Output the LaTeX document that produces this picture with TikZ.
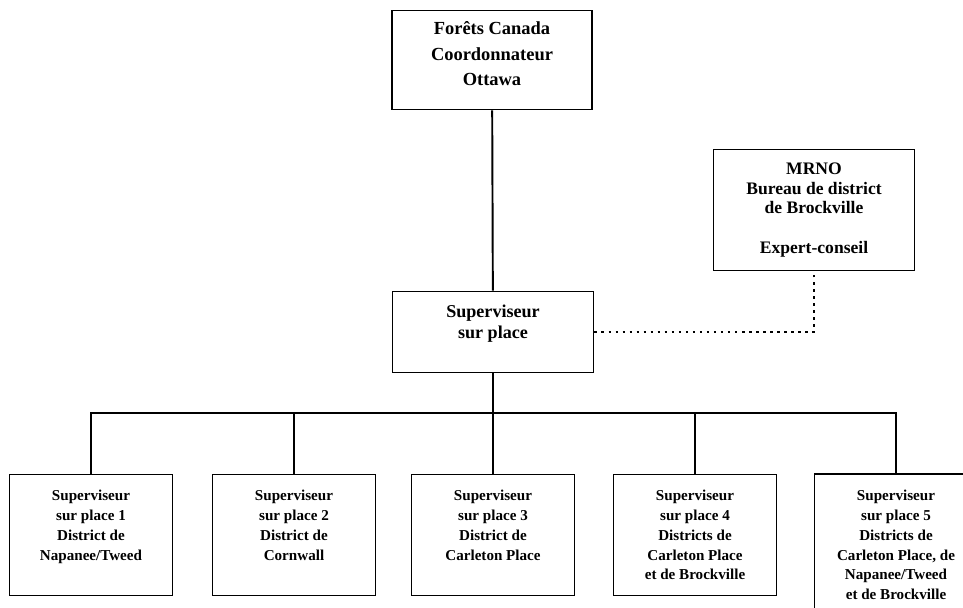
\documentclass[tikz,border=0pt]{standalone}
\usepackage{fontspec}
\setmainfont{Liberation Serif}
\begin{document}
\begin{tikzpicture}[x=0.02cm, y=-0.02cm,
  box/.style={draw, rectangle, line width=1.1pt, align=center, font=\bfseries\fontsize{10.3}{11.9}\selectfont},
  site/.style={box, minimum width=3.26cm, minimum height=2.42cm, font=\bfseries\fontsize{8.6}{11.3}\selectfont},
  link/.style={line width=1.1pt},
  advice/.style={line width=1.4pt, dash pattern=on 1.4pt off 2.6pt}]
\clip (0,0) rectangle (963,608);

% Coordinator
\node[box, minimum width=4cm, minimum height=1.98cm, font=\bfseries\fontsize{10.5}{14.7}\selectfont] (coord) at (492,60) {Forêts Canada\\Coordonnateur\\Ottawa\\[-7.3pt]\mbox{}};

% Site supervisor
\node[box, minimum width=4.02cm, minimum height=1.62cm] (super) at (493,332) {Superviseur\\sur place\\ \mbox{}};

% MRNO consultant
\node[box, minimum width=4.02cm, minimum height=2.42cm, font=\bfseries\fontsize{10}{11.3}\selectfont] (mrno) at (814,210) {MRNO\\Bureau de district\\de Brockville\\[11.3pt]Expert-conseil};

% Local supervisors
\node[site] (site1) at (91,535) {Superviseur\\sur place 1\\District de\\Napanee/Tweed\\ \mbox{}};
\node[site] (site2) at (294,535) {Superviseur\\sur place 2\\District de\\Cornwall\\ \mbox{}};
\node[site] (site3) at (493,535) {Superviseur\\sur place 3\\District de\\Carleton Place\\ \mbox{}};
\node[site] (site4) at (695,535) {Superviseur\\sur place 4\\Districts de\\Carleton Place\\et de Brockville};
\node[site, minimum height=2.84cm] (site5) at (896,545) {Superviseur\\sur place 5\\Districts de\\Carleton Place, de\\Napanee/Tweed\\et de Brockville};

% Links
\coordinate (bus) at (493,413);
\draw[link] (coord) -- (super);
\draw[link] (super) -- (site3);
\draw[link] (site1.north) -- (site1.north |- bus) -- (site5.north |- bus) -- (site5.north);
\draw[link] (site2.north) -- (site2.north |- bus);
\draw[link] (site4.north) -- (site4.north |- bus);

% Advisory link
\draw[advice] (super.east) -| (mrno.south);
\end{tikzpicture}
\end{document}
